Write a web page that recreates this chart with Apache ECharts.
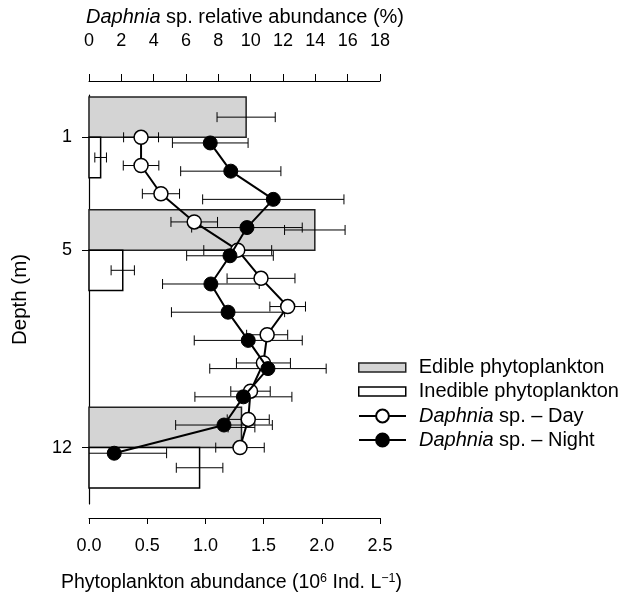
<!DOCTYPE html>
<html>
<head>
<meta charset="utf-8">
<script src="https://cdn.jsdelivr.net/npm/echarts@6/dist/echarts.min.js"></script>
<style>html,body{margin:0;padding:0;background:#fff}#c{width:627px;height:600px}</style>
</head>
<body>
<div id="c"></div>
<script>
// ---- data ----
var depthTicks = [1, 5, 12];
var dayDepth = [1, 2, 3, 4, 5, 6, 7, 8, 9, 10, 11, 12];
var dayMean = [3.22, 3.22, 4.45, 6.51, 9.2, 10.64, 12.29, 11.02, 10.79, 9.99, 9.85, 9.34];
var dayErr = [1.08, 1.1, 1.15, 1.44, 2.1, 2.1, 1.1, 1.27, 1.67, 1.22, 1.3, 1.5];
var nightDepth = [1.2, 2.2, 3.2, 4.2, 5.2, 6.2, 7.2, 8.2, 9.2, 10.2, 11.2, 12.2];
var nightMean = [7.5, 8.77, 11.4, 9.77, 8.72, 7.54, 8.6, 9.85, 11.07, 9.55, 8.35, 1.56];
var nightErr = [2.34, 3.1, 4.37, 3.42, 2.68, 2.99, 3.5, 3.34, 3.6, 3.0, 2.99, 3.24];
var barDepth = [1, 5, 12];
var edible = [1.35, 1.94, 1.31];
var edibleErr = [0.25, 0.26, 0.115];
var inedible = [0.10, 0.29, 0.95];
var inedibleErr = [0.05, 0.10, 0.20];
var seriesNames = ['Edible phytoplankton', 'Inedible phytoplankton', 'Daphnia sp. \u2013 Day', 'Daphnia sp. \u2013 Night'];

// ---- styles ----
var FONT = "'Liberation Sans', Arial, Helvetica, sans-serif";
var BAR_SPAN = 1.43;   // vertical extent of each bar, in metres
var CAP = 5;           // half height of error-bar caps (px)

function errGroup(p1, p2) {
  var st = {stroke: '#000', lineWidth: 1};
  return [
    {type: 'line', shape: {x1: p1[0], y1: p1[1], x2: p2[0], y2: p2[1]}, style: st},
    {type: 'line', shape: {x1: p1[0], y1: p1[1] - CAP, x2: p1[0], y2: p1[1] + CAP}, style: st},
    {type: 'line', shape: {x1: p2[0], y1: p2[1] - CAP, x2: p2[0], y2: p2[1] + CAP}, style: st}
  ];
}
function pointErrRender(params, api) {
  var v = api.value(0), e = api.value(1), d = api.value(2);
  return {type: 'group', children: errGroup(api.coord([v - e, d]), api.coord([v + e, d]))};
}
function barRender(below, fill, stroke) {
  return function (params, api) {
    var v = api.value(0), e = api.value(1), d = api.value(2);
    var d0 = below ? d : d - BAR_SPAN;
    var d1 = below ? d + BAR_SPAN : d;
    var a = api.coord([0, d0]), b = api.coord([v, d1]);
    var mid = (d0 + d1) / 2;
    return {type: 'group', children: [{
      type: 'rect', shape: {x: a[0], y: a[1], width: b[0] - a[0], height: b[1] - a[1]},
      style: {fill: fill, stroke: stroke, lineWidth: 1.5}
    }].concat(errGroup(api.coord([v - e, mid]), api.coord([v + e, mid])))};
  };
}
function zip3(a, b, c) { return a.map(function (x, i) { return [x, b[i], c[i]]; }); }
function zip2(a, b) { return a.map(function (x, i) { return [x, b[i]]; }); }

var legendCenters = [367.5, 391.5, 416, 440];
function makeLegend(i) {
  var isBar = i < 2;
  var item = {name: seriesNames[i]};
  if (i === 0) item.itemStyle = {color: '#d4d4d4', borderColor: '#222', borderWidth: 1.5};
  if (i === 1) item.itemStyle = {color: '#fff', borderColor: '#000', borderWidth: 1.5};
  return {
    orient: 'vertical', left: 358, top: legendCenters[i] - 10, padding: 0,
    itemWidth: 47, itemHeight: isBar ? 9 : 16, selectedMode: false,
    icon: isBar ? 'rect' : undefined,
    formatter: function (name) { return name.replace('Daphnia', '{i|Daphnia}'); },
    textStyle: {fontSize: 20, color: '#000', fontFamily: FONT, padding: [0, 0, 0, 8],
      rich: {i: {fontSize: 20, fontStyle: 'italic', fontFamily: FONT, color: '#000'}}},
    data: [item]
  };
}

var chart = echarts.init(document.getElementById('c'), null, {renderer: 'canvas'});
chart.setOption({
  backgroundColor: '#fff',
  animation: false,
  textStyle: {fontFamily: FONT, color: '#000'},
  grid: {left: 89, right: 247, top: 95, bottom: 96, containLabel: false},
  xAxis: [
    {
      type: 'value', position: 'bottom', offset: 14, min: 0, max: 2.5, interval: 0.5,
      axisLine: {show: true, onZero: false, lineStyle: {color: '#000', width: 1}},
      axisTick: {show: true, length: 6, lineStyle: {color: '#000'}},
      axisLabel: {fontSize: 18, margin: 19, color: '#000', fontFamily: FONT,
        formatter: function (v) { return v.toFixed(1); }},
      splitLine: {show: false},
      name: 'Phytoplankton abundance (10{sup|6} Ind. L{sup|\u22121})',
      nameLocation: 'middle', nameGap: 54,
      nameTextStyle: {fontSize: 19.5, color: '#000', fontFamily: FONT, padding: [0, 6, 0, 0],
        rich: {sup: {fontSize: 12.5, fontFamily: FONT, padding: [0, 0, 9, 0], color: '#000'}}}
    },
    {
      type: 'value', position: 'top', offset: 14, min: 0, max: 18, interval: 2,
      axisLine: {show: true, onZero: false, lineStyle: {color: '#000', width: 1}},
      axisTick: {show: true, length: 7, lineStyle: {color: '#000'}},
      axisLabel: {fontSize: 18, margin: 31, color: '#000', fontFamily: FONT},
      splitLine: {show: false},
      name: '{i|Daphnia} sp. relative abundance (%)',
      nameLocation: 'middle', nameGap: 50,
      nameTextStyle: {fontSize: 20, color: '#000', fontFamily: FONT, padding: [0, 0, 0, 21],
        rich: {i: {fontSize: 20, fontStyle: 'italic', fontFamily: FONT, color: '#000'}}}
    }
  ],
  yAxis: {
    type: 'value', inverse: true, min: -0.5, max: 14,
    axisLine: {show: true, onZero: false, lineStyle: {color: '#000', width: 1.2}},
    axisTick: {show: true, length: 7, customValues: depthTicks, lineStyle: {color: '#000'}},
    axisLabel: {fontSize: 18, margin: 17, color: '#000', fontFamily: FONT, customValues: depthTicks},
    splitLine: {show: false},
    name: 'Depth (m)', nameLocation: 'middle', nameGap: 58,
    nameTextStyle: {fontSize: 20.5, color: '#000', fontFamily: FONT}
  },
  legend: [makeLegend(0), makeLegend(1), makeLegend(2), makeLegend(3)],
  series: [
    {
      name: seriesNames[0], type: 'custom', xAxisIndex: 0, yAxisIndex: 0, z: 1,
      itemStyle: {color: '#d4d4d4'},
      renderItem: barRender(false, '#d4d4d4', '#222'), encode: {x: 0, y: 2},
      data: zip3(edible, edibleErr, barDepth)
    },
    {
      name: seriesNames[1], type: 'custom', xAxisIndex: 0, yAxisIndex: 0, z: 1,
      itemStyle: {color: '#fff'},
      renderItem: barRender(true, '#fff', '#000'), encode: {x: 0, y: 2},
      data: zip3(inedible, inedibleErr, barDepth)
    },
    {
      name: 'dayErr', type: 'custom', xAxisIndex: 1, yAxisIndex: 0, z: 2, clip: true,
      renderItem: pointErrRender, encode: {x: 0, y: 2},
      data: zip3(dayMean, dayErr, dayDepth)
    },
    {
      name: 'nightErr', type: 'custom', xAxisIndex: 1, yAxisIndex: 0, z: 2, clip: true,
      renderItem: pointErrRender, encode: {x: 0, y: 2},
      data: zip3(nightMean, nightErr, nightDepth)
    },
    {
      name: seriesNames[2], type: 'line', xAxisIndex: 1, yAxisIndex: 0, z: 3,
      symbol: 'circle', symbolSize: 14, showAllSymbol: true,
      lineStyle: {color: '#000', width: 2},
      itemStyle: {color: '#fff', borderColor: '#000', borderWidth: 1.5},
      data: zip2(dayMean, dayDepth)
    },
    {
      name: seriesNames[3], type: 'line', xAxisIndex: 1, yAxisIndex: 0, z: 4,
      symbol: 'circle', symbolSize: 14, showAllSymbol: true,
      lineStyle: {color: '#000', width: 2},
      itemStyle: {color: '#000', borderColor: '#000', borderWidth: 1},
      data: zip2(nightMean, nightDepth)
    }
  ]
});
</script>
</body>
</html>
